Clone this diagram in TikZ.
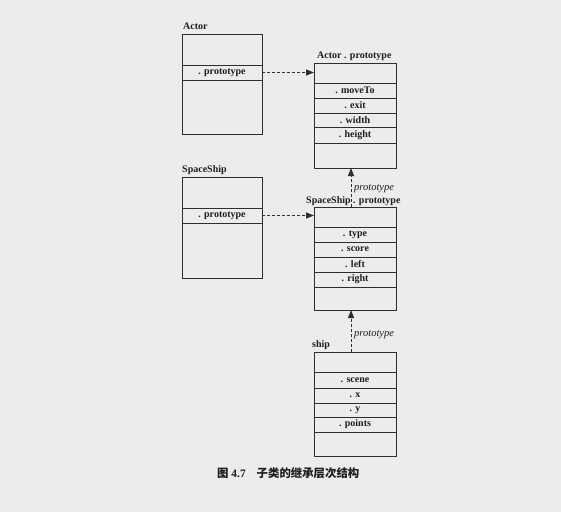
\documentclass[tikz,border=0pt]{standalone}
\usepackage{fontspec}
\setmainfont{Liberation Serif}
\newfontfamily\cjk{Noto Sans CJK SC}
\usetikzlibrary{arrows.meta}
\definecolor{paper}{HTML}{ECECEC}
\definecolor{ink}{HTML}{2E2E2E}
\definecolor{tink}{HTML}{1E1E1E}
\begin{document}
\begin{tikzpicture}[x=1pt,y=-1pt,
  box/.style={draw=ink,line width=1pt,anchor=north west,inner sep=0pt,outer sep=0pt},
  cell/.style={draw=ink,line width=1pt,anchor=north west,inner sep=0pt,outer sep=0pt,
    font=\bfseries\fontsize{10}{11}\selectfont,text=tink},
  head/.style={anchor=base west,inner sep=0pt,font=\bfseries\fontsize{10}{11}\selectfont,text=tink},
  plab/.style={anchor=base west,inner sep=0pt,font=\itshape\fontsize{10.5}{12}\selectfont,text=tink},
  arr/.style={draw=ink,line width=1pt,dash pattern=on 3pt off 2pt,
    -{Triangle[length=8pt,width=6pt]}}]
\useasboundingbox[fill=paper] (0,0) rectangle (561,512);

% Actor
\node[head] (actorlab) at (183,29) {Actor};
\node[box,minimum width=80pt,minimum height=100pt] (actor) at (182,34) {};
\node[cell,minimum width=80pt,minimum height=15pt] (actorP) at (182,65) {. prototype};

% SpaceShip
\node[head] (sslab) at (182,172) {SpaceShip};
\node[box,minimum width=80pt,minimum height=101pt] (ss) at (182,177) {};
\node[cell,minimum width=80pt,minimum height=15pt] (ssP) at (182,208) {. prototype};

% Actor.prototype
\node[head] (aplab) at (317,58) {Actor . prototype};
\node[box,minimum width=82pt,minimum height=105pt] (ap) at (314,63) {};
\node[cell,minimum width=82pt,minimum height=15pt] (ap1) at (314,83) {. moveTo};
\node[cell,minimum width=82pt,minimum height=15pt] (ap2) at (314,98) {. exit};
\node[cell,minimum width=82pt,minimum height=14pt] (ap3) at (314,113) {. width};
\node[cell,minimum width=82pt,minimum height=16pt] (ap4) at (314,127) {. height};

% SpaceShip.prototype
\node[head] (ssplab) at (306,203) {SpaceShip . prototype};
\node[box,minimum width=82pt,minimum height=103pt] (ssp) at (314,207) {};
\node[cell,minimum width=82pt,minimum height=15pt] (ssp1) at (314,227) {. type};
\node[cell,minimum width=82pt,minimum height=15pt] (ssp2) at (314,242) {. score};
\node[cell,minimum width=82pt,minimum height=15pt] (ssp3) at (314,257) {. left};
\node[cell,minimum width=82pt,minimum height=15pt] (ssp4) at (314,272) {. right};

% ship
\node[head] (shiplab) at (312,347) {ship};
\node[box,minimum width=82pt,minimum height=104pt] (ship) at (314,352) {};
\node[cell,minimum width=82pt,minimum height=16pt] (sh1) at (314,372) {. scene};
\node[cell,minimum width=82pt,minimum height=15pt] (sh2) at (314,388) {. x};
\node[cell,minimum width=82pt,minimum height=14pt] (sh3) at (314,403) {. y};
\node[cell,minimum width=82pt,minimum height=15pt] (sh4) at (314,417) {. points};

% connectors
\draw[arr] (actorP.east) -- (ap.west |- actorP.east);
\draw[arr] (ssP.east) -- (ssp.west |- ssP.east);
\draw[arr] ([xshift=-4pt]ssp.north) -- ([xshift=-4pt]ap.south);
\draw[arr] ([xshift=-4pt]ship.north) -- ([xshift=-4pt]ssp.south);
\node[plab] (pl1) at (354,190) {prototype};
\node[plab] (pl2) at (354,336) {prototype};

% caption
\node[anchor=base west,inner sep=0pt,text=tink,font=\bfseries\fontsize{11.4}{13}\selectfont] (cap) at (217,477)
  {{\cjk 图} 4.7\hspace{11pt}{\cjk 子类的继承层次结构}};
\end{tikzpicture}
\end{document}
